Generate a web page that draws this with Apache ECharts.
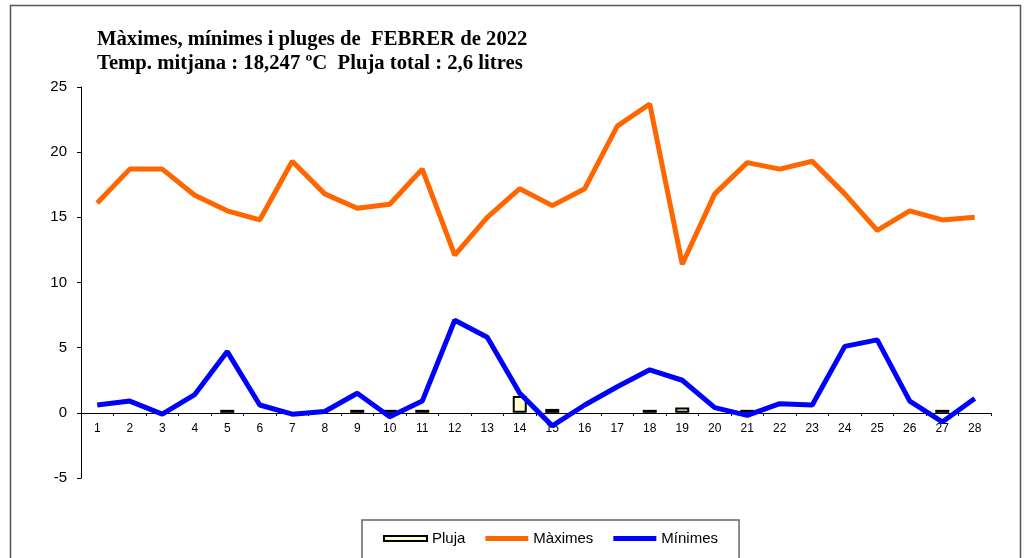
<!DOCTYPE html>
<html>
<head>
<meta charset="utf-8">
<script src="https://cdn.jsdelivr.net/npm/echarts@6/dist/echarts.min.js"></script>
<style>
  html, body { margin: 0; padding: 0; background: #fff; }
  #main { width: 1026px; height: 558px; }
</style>
</head>
<body>
<div id="main"></div>
<script>
var days = ['1','2','3','4','5','6','7','8','9','10','11','12','13','14',
            '15','16','17','18','19','20','21','22','23','24','25','26','27','28'];

var maximes = [16.1, 18.7, 18.7, 16.7, 15.5, 14.8, 19.3, 16.8, 15.7, 16.0, 18.7, 12.1, 15.0, 17.2,
               15.9, 17.2, 22.0, 23.7, 11.4, 16.8, 19.2, 18.7, 19.3, 16.8, 14.0, 15.5, 14.8, 15.0];

var minimes = [0.6, 0.9, -0.1, 1.4, 4.7, 0.6, -0.1, 0.1, 1.5, -0.3, 0.9, 7.1, 5.8, 1.5,
               -1.0, 0.6, 2.0, 3.3, 2.5, 0.4, -0.2, 0.7, 0.6, 5.1, 5.6, 0.9, -0.7, 1.1];

var pluja = [null, null, null, null, 0.1, null, null, null, 0.1, 0.1, 0.1, null, null, 1.3,
             0.3, null, null, 0.1, 0.4, null, 0.1, null, null, null, null, null, 0.1, null];

var myChart = echarts.init(document.getElementById('main'));

var option = {
    backgroundColor: '#fff',
    animation: false,
    graphic: [{
        type: 'rect',
        shape: { x: 10.5, y: 5.5, width: 1010, height: 600 },
        style: { fill: 'none', stroke: '#555', lineWidth: 1.5 },
        silent: true
    }],
    title: {
        text: 'Màximes, mínimes i pluges de  FEBRER de 2022\nTemp. mitjana : 18,247 ºC  Pluja total : 2,6 litres',
        left: 97,
        top: 28,
        padding: 0,
        textStyle: {
            fontFamily: 'Liberation Serif',
            fontWeight: 'bold',
            fontSize: 20.7,
            lineHeight: 24,
            color: '#000'
        }
    },
    legend: {
        left: 362,
        top: 520,
        padding: [11, 21, 40, 21],
        itemGap: 20,
        itemWidth: 43,
        itemHeight: 5,
        borderColor: '#666',
        borderWidth: 1.5,
        textStyle: {
            fontFamily: 'Liberation Sans',
            fontSize: 15,
            color: '#000'
        },
        data: [
            { name: 'Pluja', icon: 'rect' },
            { name: 'Màximes', icon: 'rect' },
            { name: 'Mínimes', icon: 'rect' }
        ]
    },
    grid: {
        left: 81,
        right: 35,
        top: 87,
        bottom: 80
    },
    xAxis: {
        type: 'category',
        data: days,
        offset: -65,
        axisLine: { onZero: false, lineStyle: { color: '#000', width: 1 } },
        axisTick: { show: true, length: 3, lineStyle: { color: '#000' } },
        axisLabel: {
            interval: 0,
            margin: 10,
            fontFamily: 'Liberation Sans',
            fontSize: 12,
            color: '#000'
        },
        splitLine: { show: false }
    },
    yAxis: {
        type: 'value',
        min: -5,
        max: 25,
        interval: 5,
        axisLine: { show: true, lineStyle: { color: '#000', width: 1 } },
        axisTick: { show: true, length: 4, lineStyle: { color: '#000' } },
        axisLabel: {
            margin: 14,
            fontFamily: 'Liberation Sans',
            fontSize: 15,
            color: '#000'
        },
        splitLine: { show: false }
    },
    series: [{
        name: 'Pluja',
        type: 'bar',
        barWidth: 14,
        barMinHeight: 3,
        itemStyle: {
            color: '#FFFFCC',
            borderColor: '#000',
            borderWidth: 2
        },
        data: pluja
    }, {
        name: 'Màximes',
        type: 'line',
        symbol: 'none',
        lineStyle: { color: '#FF6600', width: 5 },
        itemStyle: { color: '#FF6600' },
        data: maximes
    }, {
        name: 'Mínimes',
        type: 'line',
        symbol: 'none',
        lineStyle: { color: '#0000FF', width: 5 },
        itemStyle: { color: '#0000FF' },
        data: minimes
    }]
};

myChart.setOption(option);
</script>
</body>
</html>
